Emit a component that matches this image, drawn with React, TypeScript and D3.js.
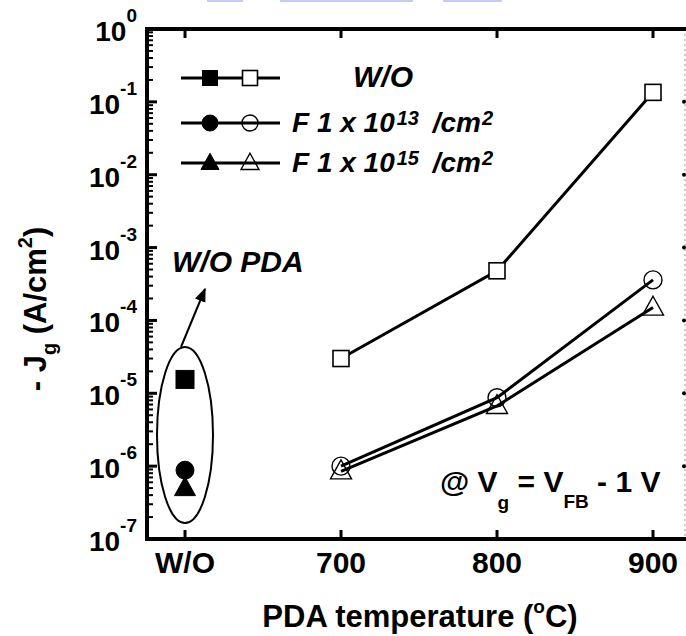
import React from "react";
import * as d3 from "d3";

const xTickValues = [600, 700, 800, 900];
const xTickLabels = ["W/O", "700", "800", "900"];
const yTickExponents = [0, -1, -2, -3, -4, -5, -6, -7];

const temps = [700, 800, 900];
const seriesWO = [3.0e-5, 4.8e-4, 0.135];
const seriesF13 = [1.0e-6, 8.7e-6, 3.6e-4];
const seriesF15 = [8.5e-7, 6.7e-6, 1.5e-4];

const noPdaWO = 1.55e-5;
const noPdaF13 = 8.8e-7;
const noPdaF15 = 5.0e-7;

const legendLabels = ["W/O", "F 1 x 10", "F 1 x 10"];

const W = 686;
const H = 636;
const FONT = "'Liberation Sans', Arial, Helvetica, sans-serif";

export default function App() {
  const left = 147;
  const top = 29;
  const bottom = 539;
  const right = 686;
  const x = d3.scaleLinear().domain([600, 900]).range([185, 653]);
  const y = d3.scaleLog().domain([1e-7, 1]).range([bottom, top]);

  const line = d3
    .line<[number, number]>()
    .x((d) => x(d[0]))
    .y((d) => y(d[1]));

  const minor: number[] = [];
  for (let e = -7; e < 0; e++) {
    for (let m = 2; m <= 9; m++) minor.push(m * Math.pow(10, e));
  }

  const sq = (cx: number, cy: number, s: number, filled: boolean, key: string) => (
    <rect key={key} x={cx - s / 2} y={cy - s / 2} width={s} height={s}
      fill={filled ? "#000" : "#fff"} stroke="#000" strokeWidth={filled ? 1 : 1.6} />
  );
  const circ = (cx: number, cy: number, r: number, filled: boolean, key: string) => (
    <circle key={key} cx={cx} cy={cy} r={r} fill={filled ? "#000" : "none"}
      stroke="#000" strokeWidth={filled ? 1 : 1.4} />
  );
  const tri = (cx: number, cy: number, s: number, filled: boolean, key: string) => {
    const h = s * 0.9;
    const p = `${cx},${cy - h * 0.6} ${cx + s / 2},${cy + h * 0.4} ${cx - s / 2},${cy + h * 0.4}`;
    return <polygon key={key} points={p} fill={filled ? "#000" : "none"}
      stroke="#000" strokeWidth={filled ? 1 : 1.4} />;
  };

  const ptsWO = temps.map((t, i) => [t, seriesWO[i]] as [number, number]);
  const pts13 = temps.map((t, i) => [t, seriesF13[i]] as [number, number]);
  const pts15 = temps.map((t, i) => [t, seriesF15[i]] as [number, number]);

  const legendX1 = 181, legendX2 = 280, legendRows = [78, 123, 163];

  return (
    <svg width={W} height={H} style={{ position: "absolute", left: 0, top: 0, background: "#fff" }}
      fontFamily={FONT}>
      <rect x={0} y={0} width={W} height={H} fill="#fff" />
      {/* faint cut-off logo at top */}
      <rect x={207} y={0} width={36} height={2} fill="#aab6ee" opacity={0.7} />
      <rect x={280} y={0} width={133} height={2} fill="#aab6ee" opacity={0.7} />
      <rect x={443} y={0} width={59} height={2} fill="#aab6ee" opacity={0.7} />

      {/* right dotted axis (cut off) */}
      <line x1={685} x2={685} y1={top} y2={bottom} stroke="#999" strokeWidth={1} strokeDasharray="2,3" />
      {yTickExponents.slice(1, 7).map((e) => (
        <circle key={"rt" + e} cx={684} cy={y(Math.pow(10, e))} r={2} fill="#000" />
      ))}

      {/* minor ticks left */}
      {minor.map((v, i) => (
        <line key={"mn" + i} x1={left} x2={left + 6} y1={y(v)} y2={y(v)} stroke="#000" strokeWidth={2} />
      ))}
      {yTickExponents.map((e) => (
        <line key={"mj" + e} x1={left} x2={left + 10} y1={y(Math.pow(10, e))} y2={y(Math.pow(10, e))}
          stroke="#000" strokeWidth={3} />
      ))}
      {/* x ticks top and bottom */}
      {xTickValues.map((v) => (
        <g key={"xt" + v}>
          <line x1={x(v)} x2={x(v)} y1={bottom} y2={bottom - 9} stroke="#000" strokeWidth={3} />
          <line x1={x(v)} x2={x(v)} y1={top} y2={top + 9} stroke="#000" strokeWidth={3} />
        </g>
      ))}
      {/* axes frame */}
      <line x1={left} x2={left} y1={top - 2} y2={bottom + 2} stroke="#000" strokeWidth={4} />
      <line x1={left - 2} x2={right} y1={bottom} y2={bottom} stroke="#000" strokeWidth={4} />
      <line x1={left - 2} x2={right} y1={top} y2={top} stroke="#000" strokeWidth={4} />

      {/* y tick labels */}
      {yTickExponents.map((e) => (
        <text key={"yl" + e} x={137} y={y(Math.pow(10, e)) + 12} textAnchor="end"
          fontSize={28} fontWeight="bold" fill="#000">
          10<tspan fontSize={19} dy={-19}>{String(e)}</tspan>
        </text>
      ))}
      {/* x tick labels */}
      {xTickValues.map((v, i) => (
        <text key={"xl" + v} x={x(v)} y={573} textAnchor="middle" fontSize={30}
          fontWeight="bold" fill="#000">{xTickLabels[i]}</text>
      ))}

      {/* axis titles */}
      <text x={420} y={627} textAnchor="middle" fontSize={31} fontWeight="bold" fill="#000">
        PDA temperature (<tspan fontSize={19} dy={-14}>o</tspan><tspan dy={14}>C)</tspan>
      </text>
      <text transform="translate(46,309) rotate(-90)" textAnchor="middle" fontSize={31}
        fontWeight="bold" fill="#000">
        - J<tspan fontSize={20} dy={10}>g</tspan><tspan dy={-10}> (A/cm</tspan>
        <tspan fontSize={20} dy={-14}>2</tspan><tspan dy={14}>)</tspan>
      </text>

      {/* data lines */}
      <path d={line(ptsWO) || ""} fill="none" stroke="#000" strokeWidth={3} />
      <path d={line(pts13) || ""} fill="none" stroke="#000" strokeWidth={3} />
      <path d={line(pts15) || ""} fill="none" stroke="#000" strokeWidth={3} />
      {ptsWO.map((d, i) => sq(x(d[0]), y(d[1]), 16, false, "s" + i))}
      {pts13.map((d, i) => circ(x(d[0]), y(d[1]), 9, false, "c" + i))}
      {pts15.map((d, i) => tri(x(d[0]), y(d[1]), 21, false, "t" + i))}

      {/* W/O PDA points */}
      {sq(x(600), y(noPdaWO), 18, true, "nw")}
      {circ(x(600), y(noPdaF13), 9, true, "nc")}
      {tri(x(600), y(noPdaF15), 21, true, "nt")}
      <ellipse cx={185} cy={435} rx={28} ry={88} fill="none" stroke="#000" strokeWidth={2} />
      <defs>
        <marker id="arr" viewBox="0 0 10 10" refX={9} refY={5} markerWidth={7} markerHeight={7}
          orient="auto">
          <path d="M0,1 L10,5 L0,9 z" fill="#000" />
        </marker>
      </defs>
      <line x1={181} y1={347} x2={205} y2={289} stroke="#000" strokeWidth={2} markerEnd="url(#arr)" />
      <text x={172} y={272} fontSize={30} fontWeight="bold" fontStyle="italic" fill="#000">W/O PDA</text>

      {/* legend */}
      {legendRows.map((ry, i) => (
        <line key={"ll" + i} x1={legendX1} x2={legendX2} y1={ry} y2={ry} stroke="#000" strokeWidth={3} />
      ))}
      {sq(210, legendRows[0], 15, true, "l0f")}
      {sq(250, legendRows[0], 15, false, "l0o")}
      {circ(210, legendRows[1], 8, true, "l1f")}
      {circ(250, legendRows[1], 8, false, "l1o")}
      {tri(210, legendRows[2], 18, true, "l2f")}
      {tri(250, legendRows[2], 18, false, "l2o")}
      <text x={353} y={87} fontSize={30} fontWeight="bold" fontStyle="italic" fill="#000">{legendLabels[0]}</text>
      <text x={292} y={132} fontSize={28} fontWeight="bold" fontStyle="italic" fill="#000">
        {legendLabels[1]}<tspan fontSize={20} dy={-7} dx={2}>13</tspan><tspan dy={7} dx={6}> /cm</tspan>
        <tspan fontSize={20} dy={-7} dx={1}>2</tspan>
      </text>
      <text x={292} y={172} fontSize={28} fontWeight="bold" fontStyle="italic" fill="#000">
        {legendLabels[2]}<tspan fontSize={20} dy={-7} dx={2}>15</tspan><tspan dy={7} dx={6}> /cm</tspan>
        <tspan fontSize={20} dy={-7} dx={1}>2</tspan>
      </text>

      {/* condition annotation */}
      <text x={440} y={492} fontSize={30} fontWeight="bold" fill="#000">
        @ V<tspan fontSize={19} dy={17}>g</tspan><tspan dy={-17}> = V</tspan>
        <tspan fontSize={19} dy={16}>FB</tspan><tspan dy={-16}> - 1 V</tspan>
      </text>
    </svg>
  );
}
